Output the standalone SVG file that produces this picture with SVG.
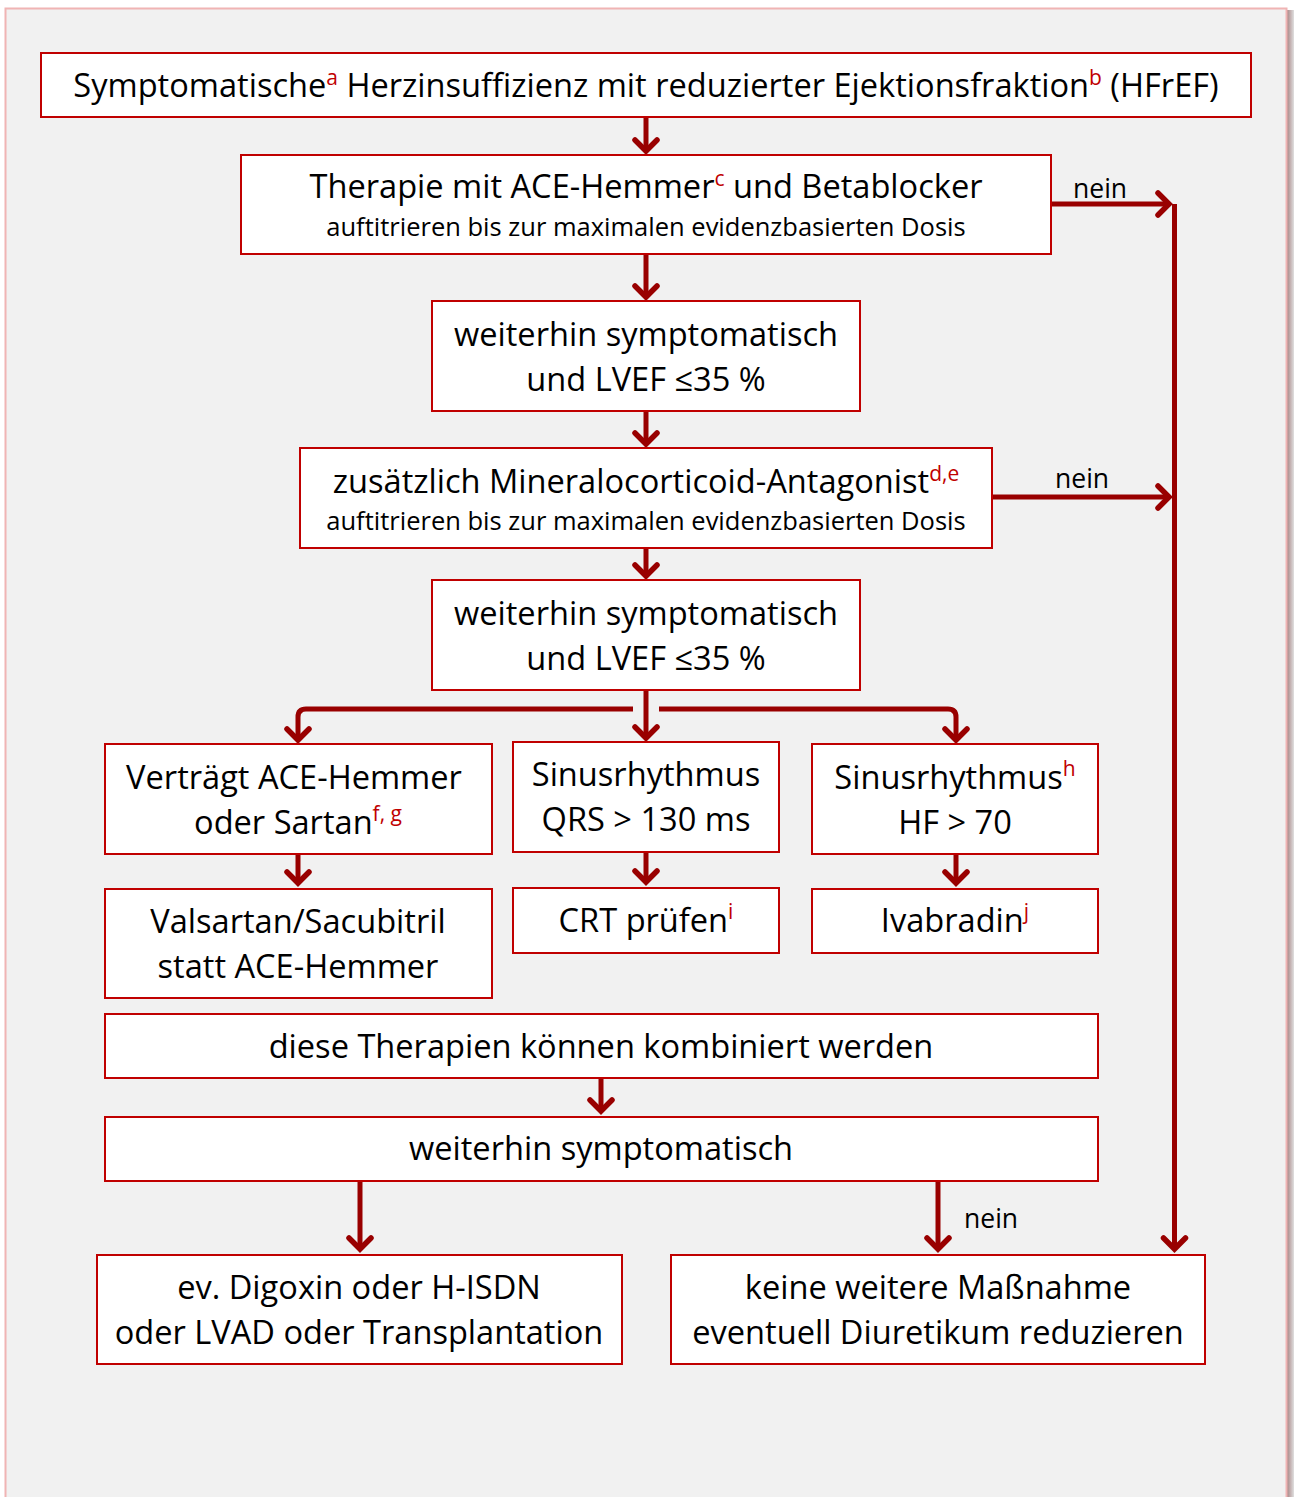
<svg xmlns="http://www.w3.org/2000/svg" width="1294" height="1497" viewBox="0 0 1294 1497">
<defs>
<style>
.box{fill:#ffffff;stroke:#c00000;stroke-width:2}
.t{font-family:"Open Sans","Noto Sans",sans-serif;fill:#000;text-anchor:middle}
.l{font-size:32.6px}
.s{font-size:25.5px}
.m{font-size:32.6px}
.sup{fill:#c00000;font-size:21px}
.c{fill:none;stroke:#990000;stroke-width:5;stroke-linejoin:round}
.lbl{font-family:"Open Sans","Noto Sans",sans-serif;font-size:26.5px;fill:#000}
</style>
<marker id="ah" viewBox="-20 -20 40 40" markerWidth="40" markerHeight="40" markerUnits="userSpaceOnUse" refX="0" refY="0" orient="auto">
<path d="M-10,-11 L1,0 L-10,11" fill="none" stroke="#990000" stroke-width="5.5" stroke-linecap="round" stroke-linejoin="miter"/>
</marker>
<linearGradient id="sh" x1="0" x2="1" y1="0" y2="0">
<stop offset="0" stop-color="#a07878"/>
<stop offset="1" stop-color="#e0e0e0"/>
</linearGradient>
</defs>
<rect x="0" y="0" width="1294" height="1497" fill="#ffffff"/>
<rect x="1286" y="10" width="8" height="1487" fill="url(#sh)"/>
<rect x="5.5" y="8.5" width="1281" height="1495" fill="#f1f1f1" stroke="#f0b4b4" stroke-width="2"/>

<g id="connectors">
<path class="c" d="M646,118 V150" marker-end="url(#ah)"/>
<path class="c" d="M646,255 V296" marker-end="url(#ah)"/>
<path class="c" d="M646,412 V443" marker-end="url(#ah)"/>
<path class="c" d="M646,549 V575" marker-end="url(#ah)"/>
<path class="c" d="M646,691 V737" marker-end="url(#ah)"/>
<path class="c" d="M633,709 H306 Q298,709 298,717 V739" marker-end="url(#ah)"/>
<path class="c" d="M659,709 H948 Q956,709 956,717 V739" marker-end="url(#ah)"/>
<path class="c" d="M298,855 V882" marker-end="url(#ah)"/>
<path class="c" d="M646,853 V881" marker-end="url(#ah)"/>
<path class="c" d="M956,855 V882" marker-end="url(#ah)"/>
<path class="c" d="M601,1079 V1110" marker-end="url(#ah)"/>
<path class="c" d="M360,1182 V1248" marker-end="url(#ah)"/>
<path class="c" d="M938,1182 V1248" marker-end="url(#ah)"/>
<path class="c" d="M1052,204 H1168" marker-end="url(#ah)"/>
<path class="c" d="M1174.5,204 V1248" marker-end="url(#ah)"/>
<path class="c" d="M993,497 H1168" marker-end="url(#ah)"/>
<text class="lbl" x="1073" y="198">nein</text>
<text class="lbl" x="1055" y="488">nein</text>
<text class="lbl" x="964" y="1228">nein</text>
</g>

<g id="n1">
<rect class="box" x="41" y="53" width="1210" height="64"/>
<text class="t l" x="646" y="97">Symptomatische<tspan class="sup" dy="-12">a</tspan><tspan dy="12"> Herzinsuffizienz mit reduzierter Ejektionsfraktion</tspan><tspan class="sup" dy="-12">b</tspan><tspan dy="12"> (HFrEF)</tspan></text>
</g>
<g id="n2">
<rect class="box" x="241" y="155" width="810" height="99"/>
<text class="t l" x="646" y="198">Therapie mit ACE-Hemmer<tspan class="sup" dy="-12">c</tspan><tspan dy="12"> und Betablocker</tspan></text>
<text class="t s" x="646" y="236">auftitrieren bis zur maximalen evidenzbasierten Dosis</text>
</g>
<g id="n3">
<rect class="box" x="432" y="301" width="428" height="110"/>
<text class="t m" x="646" y="346">weiterhin symptomatisch</text>
<text class="t m" x="646" y="391">und LVEF ≤35 %</text>
</g>
<g id="n4">
<rect class="box" x="300" y="448" width="692" height="100"/>
<text class="t l" x="646" y="493">zusätzlich Mineralocorticoid-Antagonist<tspan class="sup" dy="-12">d,e</tspan></text>
<text class="t s" x="646" y="530">auftitrieren bis zur maximalen evidenzbasierten Dosis</text>
</g>
<g id="n5">
<rect class="box" x="432" y="580" width="428" height="110"/>
<text class="t m" x="646" y="625">weiterhin symptomatisch</text>
<text class="t m" x="646" y="670">und LVEF ≤35 %</text>
</g>
<g id="n6">
<rect class="box" x="105" y="744" width="387" height="110"/>
<text class="t m" x="294" y="789">Verträgt ACE-Hemmer</text>
<text class="t m" x="298" y="834">oder Sartan<tspan class="sup" dy="-13">f, g</tspan></text>
</g>
<g id="n7">
<rect class="box" x="513" y="742" width="266" height="110"/>
<text class="t m" x="646" y="786">Sinusrhythmus</text>
<text class="t m" x="646" y="831">QRS &gt; 130 ms</text>
</g>
<g id="n8">
<rect class="box" x="812" y="744" width="286" height="110"/>
<text class="t m" x="955" y="789">Sinusrhythmus<tspan class="sup" dy="-13">h</tspan></text>
<text class="t m" x="955" y="834">HF &gt; 70</text>
</g>
<g id="n9">
<rect class="box" x="105" y="889" width="387" height="109"/>
<text class="t m" x="298" y="933">Valsartan/Sacubitril</text>
<text class="t m" x="298" y="978">statt ACE-Hemmer</text>
</g>
<g id="n10">
<rect class="box" x="513" y="888" width="266" height="65"/>
<text class="t m" x="646" y="932">CRT prüfen<tspan class="sup" dy="-13">i</tspan></text>
</g>
<g id="n11">
<rect class="box" x="812" y="889" width="286" height="64"/>
<text class="t m" x="955" y="932">Ivabradin<tspan class="sup" dy="-13">j</tspan></text>
</g>
<g id="n12">
<rect class="box" x="105" y="1014" width="993" height="64"/>
<text class="t m" x="601" y="1058">diese Therapien können kombiniert werden</text>
</g>
<g id="n13">
<rect class="box" x="105" y="1117" width="993" height="64"/>
<text class="t m" x="601" y="1160">weiterhin symptomatisch</text>
</g>
<g id="n14">
<rect class="box" x="97" y="1255" width="525" height="109"/>
<text class="t m" x="359" y="1299">ev. Digoxin oder H-ISDN</text>
<text class="t m" x="359" y="1344">oder LVAD oder Transplantation</text>
</g>
<g id="n15">
<rect class="box" x="671" y="1255" width="534" height="109"/>
<text class="t m" x="938" y="1299">keine weitere Maßnahme</text>
<text class="t m" x="938" y="1344">eventuell Diuretikum reduzieren</text>
</g>
</svg>
